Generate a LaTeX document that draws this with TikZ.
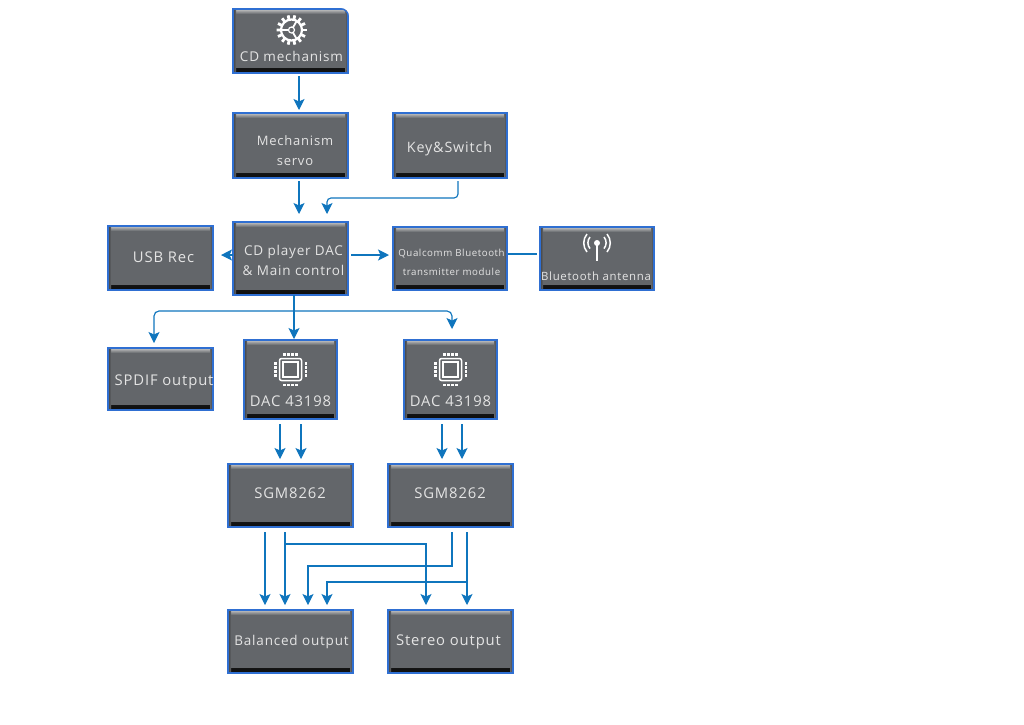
\documentclass[tikz,border=0pt]{standalone}
\usepackage{fontspec}
\setmainfont[LetterSpace=6]{Open Sans}
\usetikzlibrary{arrows.meta,calc,positioning}
\definecolor{boxgrey}{HTML}{63666A}
\definecolor{boxblue}{HTML}{2F6FD2}
\definecolor{linkblue}{HTML}{0F75BD}
\definecolor{textgrey}{HTML}{E4E4E4}

\begin{document}
\begin{tikzpicture}[x=1pt,y=-1pt,
	  box/.style 2 args={draw=boxblue,line width=1.1pt,fill=boxgrey,inner sep=0pt,outer sep=0pt,
	    minimum width=#1,minimum height=#2,
	    path picture={
	      \shade[top color=boxgrey,bottom color=black!95] ([yshift=5pt]path picture bounding box.south west) rectangle (path picture bounding box.south east);
	      \shade[top color=black!22,bottom color=boxgrey] (path picture bounding box.north west) rectangle ([yshift=-5pt]path picture bounding box.north east);
	      \shade[left color=black!75,right color=boxgrey] (path picture bounding box.south west) rectangle ([xshift=3pt]path picture bounding box.north west);
	      \shade[left color=boxgrey,right color=black!75] ([xshift=-3pt]path picture bounding box.south east) rectangle (path picture bounding box.north east);
	    }},
	  boxtext/.style={text=textgrey,align=center,inner sep=0pt,font=\fontsize{14.8}{20}\selectfont},
	  link/.style={-{Stealth[length=11pt,width=11pt,inset=2.5pt]},draw=linkblue,line width=1.15pt,shorten <=3pt,shorten >=3pt},
	  icon/.style={draw=white,line width=1.5pt}]

	  \useasboundingbox (0,0) rectangle (1024,724);

	  % Boxes
	  \node[box={115pt}{64pt}] (cdmech) at (290.5,41) {};
	  \node[box={115pt}{65pt}] (mechservo) at (290.5,145.5) {};
	  \node[box={114pt}{65pt}] (keyswitch) at (450,145.5) {};
	  \node[box={115pt}{73pt}] (cdplayer) at (290.5,258.5) {};
	  \node[box={105pt}{64pt}] (usbrec) at (160.5,258) {};
	  \node[box={114pt}{63pt}] (bluetooth) at (450,258.5) {};
	  \node[box={114pt}{63pt}] (antenna) at (597,258.5) {};
	  \node[box={105pt}{62pt}] (spdif) at (160.5,379) {};
	  \node[box={93pt}{79pt}] (daca) at (290.5,379.5) {};
	  \node[box={93pt}{79pt}] (dacb) at (450.5,379.5) {};
	  \node[box={125pt}{63pt}] (sgma) at (290.5,495.5) {};
	  \node[box={125pt}{63pt}] (sgmb) at (450.5,495.5) {};
	  \node[box={125pt}{63pt}] (balanced) at (290.5,641.5) {};
	  \node[box={125pt}{63pt}] (stereo) at (450.5,641.5) {};

	  % Rounded corner of the first box
	  \fill[white] ($(cdmech.north east)+(-7,-1)$) -- ($(cdmech.north east)+(1,-1)$) -- ($(cdmech.north east)+(1,7)$) arc[start angle=0,end angle=90,radius=8pt] -- cycle;
	  \draw[boxblue,line width=1.1pt] ($(cdmech.north east)+(0,7)$) arc[start angle=0,end angle=90,radius=7pt];

	  % Labels
	  \node[boxtext,font=\fontsize{13.5}{20}\selectfont] (cdmechtext) at (291.5,56) {CD mechanism};
	  \node[boxtext,font=\fontsize{13}{20}\selectfont] (mechservotext) at (295,150.5) {Mechanism\\servo};
	  \node[boxtext,font=\fontsize{14.3}{20}\selectfont] (keyswitchtext) at (449.5,149) {Key\&Switch};
	  \node[boxtext,font=\fontsize{13.5}{20}\selectfont] (cdplayertext) at (293.5,260.5) {CD player DAC\\\& Main control};
	  \node[boxtext] (usbrectext) at (163.5,257.5) {USB Rec};
	  \node[boxtext,font=\fontsize{9.7}{19}\selectfont] (bluetoothtext) at (451.5,262) {Qualcomm Bluetooth\\transmitter module};
	  \node[boxtext,font=\fontsize{11.4}{20}\selectfont] (antennatext) at (596,276) {Bluetooth antenna};
	  \node[boxtext] (spdiftext) at (164,382) {SPDIF output};
	  \node[boxtext] (dacatext) at (290.5,401) {DAC 43198};
	  \node[boxtext] (dacbtext) at (450.5,401) {DAC 43198};
	  \node[boxtext] (sgmatext) at (290,493) {SGM8262};
	  \node[boxtext] (sgmbtext) at (450,493) {SGM8262};
	  \node[boxtext,font=\fontsize{13.5}{20}\selectfont] (balancedtext) at (291.5,642) {Balanced output};
	  \node[boxtext] (stereotext) at (448.5,642) {Stereo output};

	  % Gear
	  \begin{scope}[shift={(291.5,30)}]
	    \draw[icon,line width=2.2pt] (0,0) circle (10.5);
	    \foreach \tooth in {0,25.7,...,340}
	      \draw[icon,line width=2.8pt] (\tooth:11) -- (\tooth:15);
	    \foreach \spoke in {60,180,300}
	      \draw[icon,line width=1.8pt] (\spoke:3) -- (\spoke:10);
	    \draw[icon,line width=1.2pt] (0,0) circle (3);
	  \end{scope}

	  % Chips
	  \foreach \dacbox in {daca,dacb} {
	    \begin{scope}[shift={(\dacbox.center)},yshift=10pt]
	      \draw[icon,rounded corners=2pt] (-11,-11) rectangle (11,11);
	      \draw[icon,line width=1.3pt] (-7.5,-7.5) rectangle (7.5,7.5);
	      \foreach \pin in {-6,-2,2,6} {
	        \fill[white] (\pin-1.2,-16.5) rectangle (\pin+1.2,-14);
	        \fill[white] (\pin-1.2,14) rectangle (\pin+1.2,16.5);
	        \fill[white] (-16.5,\pin-1.2) rectangle (-14,\pin+1.2);
	        \fill[white] (14,\pin-1.2) rectangle (16.5,\pin+1.2);
	      }
	    \end{scope}
	  }

	  % Antenna
	  \begin{scope}[shift={(597,243)}]
	    \fill[white] (0,0) circle (3);
	    \draw[icon,line width=2pt] (0,0) -- (0,18);
	    \draw[icon,line width=1.5pt] (-7,-6) arc[start angle=140,end angle=220,radius=9pt];
	    \draw[icon,line width=1.5pt] (-10,-9) arc[start angle=140,end angle=220,radius=14pt];
	    \draw[icon,line width=1.5pt] (7,-6) arc[start angle=40,end angle=-40,radius=9pt];
	    \draw[icon,line width=1.5pt] (10,-9) arc[start angle=40,end angle=-40,radius=14pt];
	  \end{scope}

	  % Junctions
	  \coordinate (keyturn) at (327,198);
	  \coordinate (dacbus) at (294,311);
	  \coordinate (sgmatap) at (285,544);
	  \coordinate (sgmbturn) at (308,566);
	  \coordinate (sgmbtap) at (467,582);

	  % Connectors
	  \draw[link] ([xshift=8.5pt]cdmech.south) -- ([xshift=8.5pt]mechservo.north);
	  \draw[link,shorten >=8pt] ([xshift=8.5pt]mechservo.south) -- ([xshift=8.5pt]cdplayer.north);
	  \draw[link,shorten >=8pt,rounded corners=4pt] ([xshift=8pt]keyswitch.south) |- (keyturn) -- (keyturn |- cdplayer.north);
	  \draw[link,shorten <=0pt,shorten >=8pt] (cdplayer.west |- 0,255) -- (usbrec.east |- 0,255);
	  \draw[link,shorten >=4pt] (cdplayer.east |- 0,255) -- (bluetooth.west |- 0,255);
	  \draw[draw=linkblue,line width=1.15pt,shorten <=1pt,shorten >=3pt] (bluetooth.east |- 0,254) -- (antenna.west |- 0,254);
	  \draw[link,shorten <=0pt,shorten >=1pt] (dacbus |- cdplayer.south) -- (dacbus |- daca.north);
	  \draw[link,shorten <=0pt,shorten >=5pt,rounded corners=5pt] (dacbus) -| ([xshift=-6.5pt]spdif.north);
	  \draw[link,shorten <=0pt,shorten >=11pt,rounded corners=5pt] (dacbus) -| ([xshift=1.5pt]dacb.north);
	  \draw[link,shorten <=5pt,shorten >=5pt] ([xshift=-10.5pt]daca.south) -- ([xshift=-10.5pt]sgma.north);
	  \draw[link,shorten <=5pt,shorten >=5pt] ([xshift=10.5pt]daca.south) -- ([xshift=10.5pt]sgma.north);
	  \draw[link,shorten <=5pt,shorten >=5pt] ([xshift=-8.5pt]dacb.south) -- ([xshift=-8.5pt]sgmb.north);
	  \draw[link,shorten <=5pt,shorten >=5pt] ([xshift=11.5pt]dacb.south) -- ([xshift=11.5pt]sgmb.north);
	  \draw[link,shorten <=5pt,shorten >=5pt] ([xshift=-25.5pt]sgma.south) -- ([xshift=-25.5pt]balanced.north);
	  \draw[link,shorten <=5pt,shorten >=5pt] ([xshift=-5.5pt]sgma.south) -- ([xshift=-5.5pt]balanced.north);
	  \draw[link,shorten <=0pt,shorten >=5pt] (sgmatap) -| ([xshift=-24.5pt]stereo.north);
	  \draw[link,shorten <=5pt,shorten >=5pt] ([xshift=1.5pt]sgmb.south) |- (sgmbturn) -- (sgmbturn |- balanced.north);
	  \draw[link,shorten <=5pt,shorten >=5pt] ([xshift=16.5pt]sgmb.south) -- ([xshift=16.5pt]stereo.north);
	  \draw[link,shorten <=0pt,shorten >=5pt] (sgmbtap) -| ([xshift=36.5pt]balanced.north);
\end{tikzpicture}
\end{document}
